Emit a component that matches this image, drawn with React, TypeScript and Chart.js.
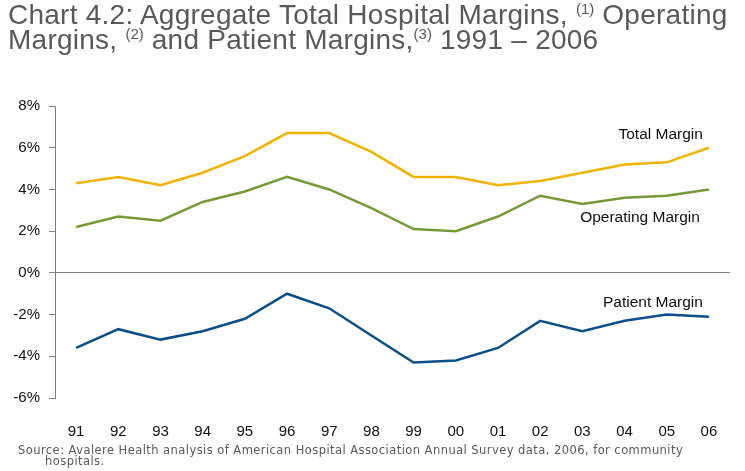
import React, { useEffect, useRef } from "react";
import { Chart, registerables } from "chart.js";

Chart.register(...registerables);

const categories = ["91", "92", "93", "94", "95", "96", "97", "98", "99", "00", "01", "02", "03", "04", "05", "06"];
const totalMargin = [4.3, 4.6, 4.2, 4.8, 5.6, 6.7, 6.7, 5.8, 4.6, 4.6, 4.2, 4.4, 4.8, 5.2, 5.3, 6.0];
const operatingMargin = [2.2, 2.7, 2.5, 3.4, 3.9, 4.6, 4.0, 3.1, 2.1, 2.0, 2.7, 3.7, 3.3, 3.6, 3.7, 4.0];
const patientMargin = [-3.6, -2.7, -3.2, -2.8, -2.2, -1.0, -1.7, -3.0, -4.3, -4.2, -3.6, -2.3, -2.8, -2.3, -2.0, -2.1];
const yTicks = [-6, -4, -2, 0, 2, 4, 6, 8];

const seriesLabels = [
  { text: "Total Margin", value: 6.6, dx: -6 },
  { text: "Operating Margin", value: 2.65, dx: -9 },
  { text: "Patient Margin", value: -1.45, dx: -6 },
];

const FONT = "'Liberation Sans', Arial, sans-serif";

const labelPlugin = {
  id: "seriesLabels",
  afterDatasetsDraw(chart: any) {
    const { ctx, scales } = chart;
    const x = scales.x.getPixelForValue(categories.length - 1);
    ctx.save();
    ctx.font = `15.5px ${FONT}`;
    ctx.fillStyle = "#111";
    ctx.textAlign = "right";
    ctx.textBaseline = "middle";
    seriesLabels.forEach((l) => {
      ctx.fillText(l.text, x + l.dx, scales.y.getPixelForValue(l.value));
    });
    ctx.restore();
  },
};

export default function App() {
  const ref = useRef<HTMLCanvasElement>(null);
  useEffect(() => {
    document.body.style.margin = "0";
    const chart = new Chart(ref.current!, {
      type: "line",
      data: {
        labels: categories,
        datasets: [
          { label: "Total Margin", data: totalMargin, borderColor: "#f0b400", borderWidth: 2.5, pointRadius: 0, tension: 0 },
          { label: "Operating Margin", data: operatingMargin, borderColor: "#779a38", borderWidth: 2.5, pointRadius: 0, tension: 0 },
          { label: "Patient Margin", data: patientMargin, borderColor: "#0b4f8a", borderWidth: 2.5, pointRadius: 0, tension: 0 },
        ],
      },
      options: {
        animation: false,
        responsive: false,
        maintainAspectRatio: false,
        layout: { padding: { top: 106, right: 15, left: 0, bottom: 0 } },
        plugins: { legend: { display: false }, tooltip: { enabled: false } },
        scales: {
          x: {
            offset: true,
            grid: { display: false },
            border: { display: false },
            ticks: { color: "#111", font: { family: FONT, size: 15 }, padding: 17 },
            afterFit: (s: any) => { s.height = 73; },
          },
          y: {
            min: -6,
            max: 8,
            afterBuildTicks: (s: any) => { s.ticks = yTicks.map((v) => ({ value: v })); },
            grid: {
              color: (c: any) => (c.tick && c.tick.value === 0 ? "#808080" : "rgba(0,0,0,0)"),
              tickColor: "#808080",
              tickLength: 6,
              lineWidth: 1,
            },
            border: { display: true, color: "#808080", width: 1 },
            ticks: {
              color: "#111",
              font: { family: FONT, size: 15 },
              padding: 9,
              callback: (v: any) => `${v}%`,
            },
            afterFit: (s: any) => { s.width = 55; },
          },
        },
      },
      plugins: [labelPlugin],
    });
    return () => chart.destroy();
  }, []);

  const sup: React.CSSProperties = { fontSize: "15px", verticalAlign: "10px", lineHeight: 0, letterSpacing: 0 };
  return (
    <div style={{ position: "relative", width: 745, height: 471, background: "#fff", overflow: "hidden" }}>
      <canvas ref={ref} width={745} height={471} style={{ position: "absolute", left: 0, top: 0 }} />
      <div
        style={{
          position: "absolute",
          left: 8,
          top: 2,
          fontFamily: FONT,
          fontSize: 28,
          lineHeight: "25px",
          letterSpacing: "0.25px",
          color: "#595959",
          whiteSpace: "nowrap",
        }}
      >
        <div>Chart 4.2: Aggregate Total Hospital Margins, <span style={sup}>(1)</span> Operating</div>
        <div>Margins, <span style={sup}>(2)</span> and Patient Margins,<span style={sup}>(3)</span> 1991 – 2006</div>
      </div>
      <div
        style={{
          position: "absolute",
          left: 18,
          top: 445,
          fontFamily: "'DejaVu Sans', sans-serif",
          fontSize: 11.5,
          lineHeight: "11px",
          letterSpacing: "0.44px",
          color: "#595959",
          whiteSpace: "nowrap",
        }}
      >
        <div>Source: Avalere Health analysis of American Hospital Association Annual Survey data, 2006, for community</div>
        <div style={{ paddingLeft: 27 }}>hospitals.</div>
      </div>
    </div>
  );
}
